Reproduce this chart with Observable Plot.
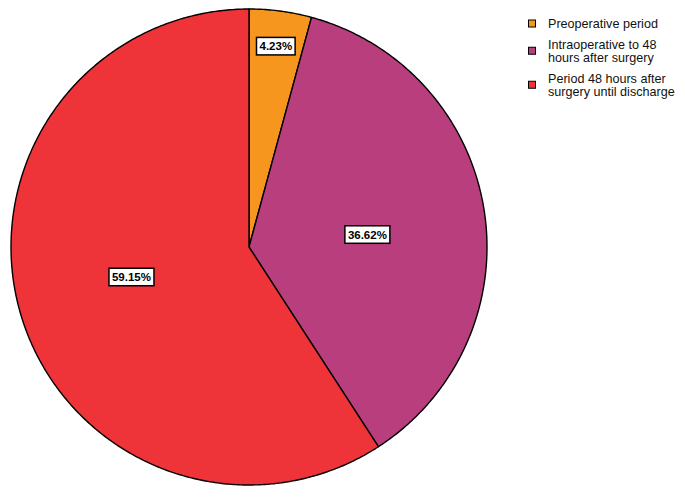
<!DOCTYPE html>
<html>
<head>
<meta charset="utf-8">
<script src="https://cdn.jsdelivr.net/npm/d3@7"></script>
<script src="https://cdn.jsdelivr.net/npm/@observablehq/plot@0.6"></script>
<style>
  html, body { margin: 0; padding: 0; background: #fff; }
</style>
</head>
<body>
<div id="wrap" style="position:relative;width:685px;height:497px;"></div>
<script>
// ---- data ----
const categories = ["Preoperative period", "Intraoperative to 48 hours after surgery", "Period 48 hours after surgery until discharge"];
const legendLines = [["Preoperative period"], ["Intraoperative to 48", "hours after surgery"], ["Period 48 hours after", "surgery until discharge"]];
const percents = [4.23, 36.62, 59.15];
const labels = ["4.23%", "36.62%", "59.15%"];
const colors = ["#F7961F", "#B83E7E", "#EE3439"];
const labelRadius = [0.85, 0.5, 0.51];
const labelAngleShift = [0, 3, 2]; // degrees, clockwise

// ---- geometry (slice outlines from d3.pie angles) ----
const arcs = d3.pie().sort(null).value(d => d)(percents);
const outline = [];
arcs.forEach((a, i) => {
  const steps = Math.max(2, Math.ceil((a.endAngle - a.startAngle) / 0.01));
  outline.push({cat: categories[i], x: 0, y: 0});
  for (let k = 0; k <= steps; k++) {
    const t = a.startAngle + (a.endAngle - a.startAngle) * k / steps;
    outline.push({cat: categories[i], x: Math.sin(t), y: Math.cos(t)});
  }
});
const labelPts = arcs.map((a, i) => {
  const m = (a.startAngle + a.endAngle) / 2 + labelAngleShift[i] * Math.PI / 180;
  return {label: labels[i], x: labelRadius[i] * Math.sin(m), y: labelRadius[i] * Math.cos(m)};
});

const plot = Plot.plot({
  width: 685,
  height: 497,
  margin: 0,
  x: {domain: [-1, 1], range: [10.5, 486.5], axis: null},
  y: {domain: [-1, 1], range: [484.5, 8.5], axis: null},
  color: {domain: categories, range: colors},
  style: {background: "#fff"},
  marks: [
    Plot.line(outline, {x: "x", y: "y", z: "cat", fill: "cat", stroke: "#000", strokeWidth: 1.4, curve: "linear-closed", strokeLinejoin: "round"}),
    Plot.text(labelPts, {x: "x", y: "y", text: "label", fontSize: 11.5, fontWeight: "bold", fill: "#000", fontFamily: "Liberation Sans, Arial, sans-serif", className: "pielabel"})
  ]
});

const wrap = document.getElementById("wrap");
wrap.appendChild(plot);

// white boxes with black outline behind the slice labels
plot.querySelectorAll("g.pielabel text").forEach(t => {
  const b = t.getBBox();
  const r = document.createElementNS("http://www.w3.org/2000/svg", "rect");
  const padX = 3, h = 17.5;
  const cy = b.y + b.height / 2;
  r.setAttribute("x", b.x - padX);
  r.setAttribute("y", cy - h / 2);
  r.setAttribute("width", b.width + 2 * padX);
  r.setAttribute("height", h);
  r.setAttribute("fill", "#fff");
  r.setAttribute("stroke", "#000");
  r.setAttribute("stroke-width", 1.5);
  const tr = t.getAttribute("transform");
  if (tr) r.setAttribute("transform", tr);
  t.parentNode.insertBefore(r, t);
});

// legend (inside the SVG)
const svg = d3.select(plot);
const lg = svg.append("g")
  .attr("font-family", "Liberation Sans, Arial, sans-serif")
  .attr("font-size", 12.6)
  .attr("text-anchor", "start")
  .attr("fill", "#111");
const lineH = 13.5, itemGap = 20.5;
let base = 28;
legendLines.forEach((lines, i) => {
  const blockCenter = base - 4.5 + (lines.length - 1) * lineH / 2;
  lg.append("rect").attr("x", 528.5).attr("y", blockCenter - 3.5).attr("width", 7).attr("height", 7)
    .attr("fill", colors[i]).attr("stroke", "#000").attr("stroke-width", 1);
  lines.forEach((s, k) => {
    lg.append("text").attr("x", 548).attr("y", base + k * lineH).attr("text-anchor", "start").text(s);
  });
  base += (lines.length - 1) * lineH + itemGap;
});
</script>
</body>
</html>
